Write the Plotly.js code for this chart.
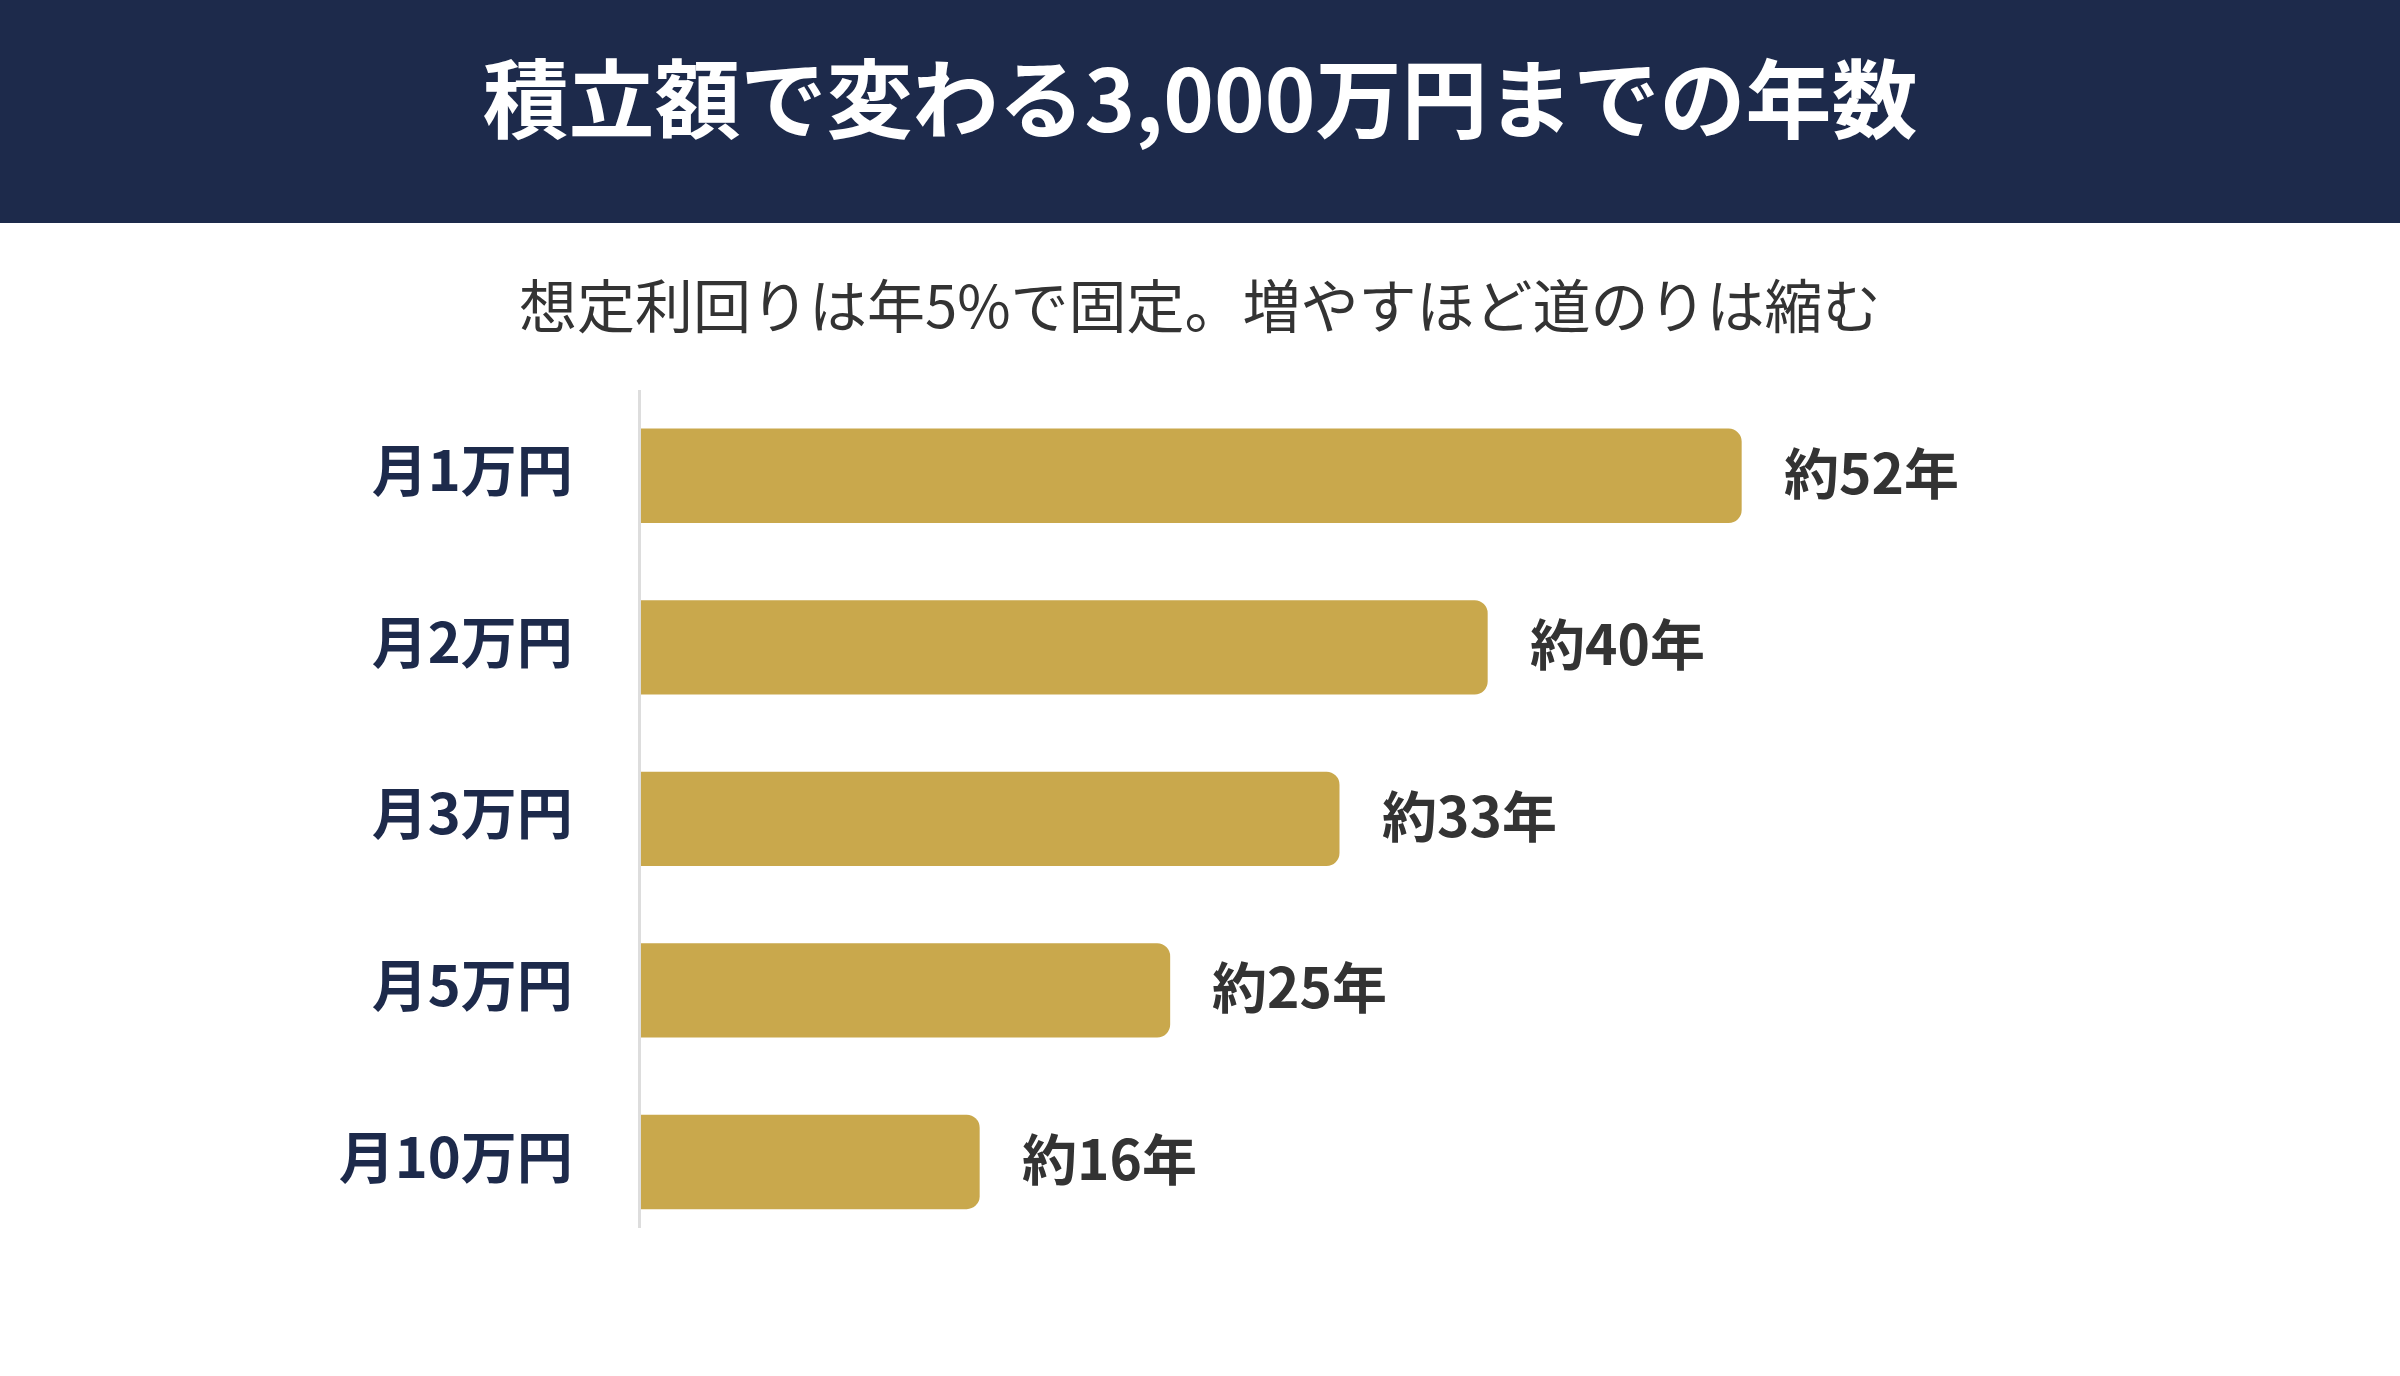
<!DOCTYPE html>
<html>
<head>
<meta charset="utf-8">
<script src="https://cdn.plot.ly/plotly-3.0.1.min.js"></script>
<style>
  html, body { margin: 0; padding: 0; background: #ffffff; }
  #chart { width: 2400px; height: 1376px; }
</style>
</head>
<body>
<div id="chart"></div>
<script>
// ---- data ----
const categories = ["月1万円", "月2万円", "月3万円", "月5万円", "月10万円"];
const years = [52, 40, 33, 25, 16];
const valuePrefix = "約";
const valueSuffix = "年";
const titleText = "積立額で変わる3,000万円までの年数";
const subtitleText = "想定利回りは年5%で固定。増やすほど道のりは縮む";

// ---- styles ----
const NAVY = "#1D2A4B";
const GOLD = "#C9A84C";
const FONT = "'Noto Sans CJK JP', 'Noto Sans', sans-serif";

const W = 2400, H = 1376;
const mL = 641, mR = 489, mT = 390, mB = 148;
const plotH = H - mT - mB;
const plotW = W - mL - mR;
const py = px => (H - mB - px) / plotH;   // page px (from top) -> paper y
const pxX = px => (px - mL) / plotW;       // page px -> paper x

const trace = {
  type: "bar",
  orientation: "h",
  y: categories,
  x: years,
  marker: { color: GOLD, cornerradius: 13, line: { width: 0 } },
  hoverinfo: "skip",
  showlegend: false
};

const valueAnnotations = categories.map((c, i) => ({
  x: years[i], y: c, xref: "x", yref: "y",
  text: valuePrefix + years[i] + valueSuffix,
  showarrow: false, xanchor: "left", yanchor: "middle",
  xshift: 40, yshift: 6,
  font: { family: FONT, size: 55, color: "#333333", weight: 700 }
}));

const layout = {
  width: W, height: H,
  margin: { l: mL, r: mR, t: mT, b: mB, pad: 0 },
  paper_bgcolor: "#ffffff",
  plot_bgcolor: "#ffffff",
  bargap: 0.45,
  title: {
    text: titleText,
    x: 0.5, xref: "container", xanchor: "center",
    y: 1 - 102 / H, yref: "container", yanchor: "middle",
    font: { family: FONT, size: 86, color: "#ffffff", weight: 700 }
  },
  xaxis: {
    range: [0, 60],
    showgrid: false, zeroline: false, showline: false,
    showticklabels: false, ticks: "", fixedrange: true
  },
  yaxis: {
    type: "category",
    categoryorder: "array", categoryarray: categories,
    range: [4.385, -0.5],
    showgrid: false, zeroline: false,
    showline: true, linecolor: "#DDDDDD", linewidth: 3,
    ticks: "", ticklabelstandoff: 54, ticklabelshift: 4,
    tickfont: { family: FONT, size: 56, color: NAVY, weight: 700 },
    fixedrange: true
  },
  shapes: [{
    type: "rect", xref: "paper", yref: "paper",
    x0: pxX(-10), x1: pxX(W + 10), y0: py(223), y1: py(-10),
    fillcolor: NAVY, line: { width: 0 }, layer: "below"
  }],
  annotations: [{
    text: subtitleText, xref: "paper", yref: "paper",
    x: pxX(1200), y: py(303), xanchor: "center", yanchor: "middle",
    showarrow: false,
    font: { family: FONT, size: 58, color: "#333333", weight: 400 }
  }].concat(valueAnnotations)
};

Plotly.newPlot("chart", [trace], layout, { displayModeBar: false, staticPlot: true });
</script>
</body>
</html>
